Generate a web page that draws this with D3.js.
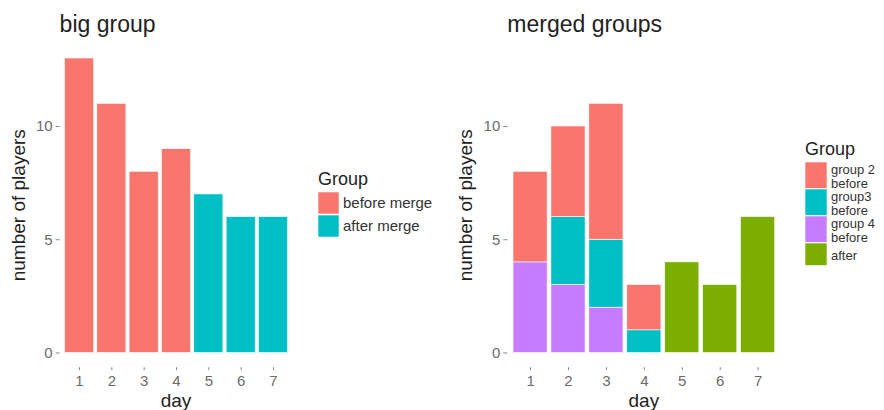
<!DOCTYPE html>
<html>
<head>
<meta charset="utf-8">
<script src="https://cdn.jsdelivr.net/npm/d3@7"></script>
<style>
  body { margin: 0; background: #fff; }
  svg { display: block; font-family: "Liberation Sans", Arial, sans-serif; }
</style>
</head>
<body>
<svg id="chart" width="884" height="410"></svg>
<script>
// data
const days = [1, 2, 3, 4, 5, 6, 7];
const bigGroups = ["before merge", "after merge"];
const bigCounts = [13, 11, 8, 9, 7, 6, 6];
const bigGroupOf = ["before merge", "before merge", "before merge", "before merge", "after merge", "after merge", "after merge"];

const mergedGroups = ["group 2\nbefore", "group3\nbefore", "group 4\nbefore", "after"];
const group2Before = [4, 4, 6, 2, 0, 0, 0];
const group3Before = [0, 3, 3, 1, 0, 0, 0];
const group4Before = [4, 3, 2, 0, 0, 0, 0];
const afterMerge   = [0, 0, 0, 0, 4, 3, 6];
const yTicks = [0, 5, 10];

const hue = ["#F8766D", "#00BFC4", "#C77CFF", "#7CAE00"];
const svg = d3.select("#chart");

// shared y scale (same height in both panels)
const y = d3.scaleLinear().domain([-0.65, 13.65]).range([367.2, 43.3]);

function panel(x0, x1, title) {
  const x = d3.scaleLinear().domain([0.4, 7.6]).range([x0, x1]);
  const g = svg.append("g");

  const ax = g.append("g")
    .attr("transform", `translate(0,${y(-0.65)})`)
    .call(d3.axisBottom(x).tickValues(days).tickSize(3).tickPadding(5).tickFormat(d3.format("d")));
  const ay = g.append("g")
    .attr("transform", `translate(${x0},0)`)
    .call(d3.axisLeft(y).tickValues(yTicks).tickSize(4).tickPadding(3));
  [ax, ay].forEach(a => {
    a.select(".domain").remove();
    a.selectAll("line").attr("stroke", "#888");
    a.selectAll("text").attr("fill", "#6b6b6b").style("font-size", "15px");
  });

  g.append("text")
    .attr("x", (x0 + x1) / 2).attr("y", 407)
    .attr("text-anchor", "middle")
    .style("font-size", "19px").attr("fill", "#222")
    .text("day");

  g.append("text")
    .attr("transform", `translate(${x0 - 35},${(y(-0.65) + y(13.65)) / 2}) rotate(-90)`)
    .attr("text-anchor", "middle")
    .style("font-size", "19px").attr("fill", "#222")
    .text("number of players");

  g.append("text")
    .attr("x", x0).attr("y", 32)
    .style("font-size", "23px").attr("fill", "#222")
    .text(title);

  return { g, x };
}

// left: big group
const left = panel(59.6, 292.4, "big group");
const colorBig = d3.scaleOrdinal().domain(bigGroups).range(hue.slice(0, 2));
left.g.append("g").selectAll("rect")
  .data(days.map((d, i) => ({ day: d, n: bigCounts[i], grp: bigGroupOf[i] })))
  .join("rect")
  .attr("x", d => left.x(d.day - 0.45))
  .attr("width", d => left.x(d.day + 0.45) - left.x(d.day - 0.45))
  .attr("y", d => y(d.n))
  .attr("height", d => y(0) - y(d.n))
  .attr("fill", d => colorBig(d.grp))
  .attr("stroke", "#fff").attr("stroke-width", 0.6);

// right: merged groups, stacked (group 4 at bottom)
const right = panel(507.3, 780.4, "merged groups");
const colorMerged = d3.scaleOrdinal().domain(mergedGroups).range(hue);
const rows = days.map((d, i) => ({
  day: d,
  [mergedGroups[0]]: group2Before[i],
  [mergedGroups[1]]: group3Before[i],
  [mergedGroups[2]]: group4Before[i],
  [mergedGroups[3]]: afterMerge[i]
}));
const stack = d3.stack().keys(mergedGroups.slice().reverse())(rows);
right.g.append("g").selectAll("g")
  .data(stack)
  .join("g")
  .attr("fill", s => colorMerged(s.key))
  .selectAll("rect")
  .data(s => s.filter(p => p[1] > p[0]))
  .join("rect")
  .attr("x", p => right.x(p.data.day - 0.45))
  .attr("width", p => right.x(p.data.day + 0.45) - right.x(p.data.day - 0.45))
  .attr("y", p => y(p[1]))
  .attr("height", p => y(p[0]) - y(p[1]))
  .attr("stroke", "#fff").attr("stroke-width", 0.6);

// legends
const lg1 = svg.append("g").attr("transform", "translate(318,0)");
lg1.append("text").attr("x", 0).attr("y", 185).style("font-size", "18px").attr("fill", "#222").text("Group");
bigGroups.forEach((k, i) => {
  const ky = 192 + i * 23;
  lg1.append("rect").attr("x", 0).attr("y", ky).attr("width", 21).attr("height", 22)
    .attr("fill", colorBig(k)).attr("stroke", "#fff").attr("stroke-width", 0.6);
  lg1.append("text").attr("x", 25).attr("y", ky + 11).attr("dy", "0.35em")
    .style("font-size", "15px").attr("fill", "#333").text(k);
});

const lg2 = svg.append("g").attr("transform", "translate(805,0)");
lg2.append("text").attr("x", 0).attr("y", 155).style("font-size", "18px").attr("fill", "#222").text("Group");
const keyH = [27, 27, 27, 23];
let keyTop = 162;
mergedGroups.forEach((k, i) => {
  lg2.append("rect").attr("x", 0).attr("y", keyTop).attr("width", 22).attr("height", keyH[i] - 0.5)
    .attr("fill", colorMerged(k)).attr("stroke", "#fff").attr("stroke-width", 0.6);
  const lines = k.split("\n");
  const t = lg2.append("text").attr("x", 26).style("font-size", "13px").attr("fill", "#333");
  const first = lines.length > 1 ? keyTop + 12 : keyTop + keyH[i] / 2 + 5;
  lines.forEach((ln, j) => t.append("tspan").attr("x", 26).attr("y", first + j * 14).text(ln));
  keyTop += keyH[i];
});
</script>
</body>
</html>
